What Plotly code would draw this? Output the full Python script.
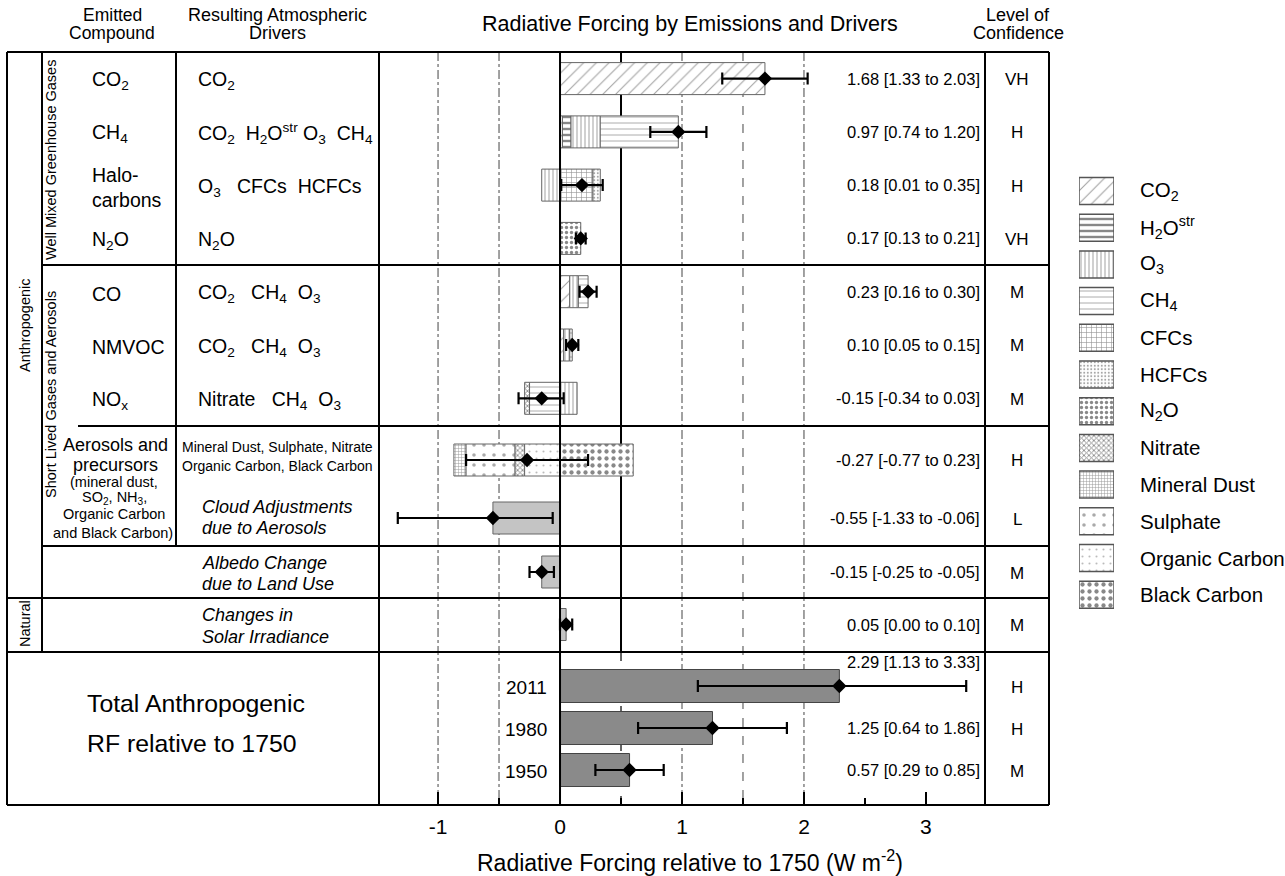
import plotly.graph_objects as go

W, H = 1285, 876
FONT = "Arial, Liberation Sans, Helvetica, sans-serif"

# ------------------------------------------------------------------ data
row_names = ["CO2", "CH4", "Halocarbons", "N2O", "CO", "NMVOC", "NOx",
             "Aerosols", "Cloud adjustments", "Albedo", "Solar",
             "Total 2011", "Total 1980", "Total 1950"]
best = [1.68, 0.97, 0.18, 0.17, 0.23, 0.10, -0.15, -0.27, -0.55, -0.15, 0.05, 2.29, 1.25, 0.57]
low = [1.33, 0.74, 0.01, 0.13, 0.16, 0.05, -0.34, -0.77, -1.33, -0.25, 0.00, 1.13, 0.64, 0.29]
high = [2.03, 1.20, 0.35, 0.21, 0.30, 0.15, 0.03, 0.23, -0.06, -0.05, 0.10, 3.33, 1.86, 0.85]
confidence = ["VH", "H", "H", "VH", "M", "M", "M", "H", "L", "M", "M", "H", "H", "M"]

# contributions of each atmospheric driver (rows CO2 .. Aerosols)
co2_rf = [1.68, 0.02, 0, 0, 0.08, 0.03, 0, 0]
h2o_rf = [0, 0.07, 0, 0, 0, 0, 0, 0]
o3_rf = [0, 0.24, -0.15, 0, 0.07, 0.05, 0.14, 0]
ch4_rf = [0, 0.64, 0, 0, 0.08, 0.02, -0.25, 0]
cfc_rf = [0, 0, 0.27, 0, 0, 0, 0, 0]
hcfc_rf = [0, 0, 0.06, 0, 0, 0, 0, 0]
n2o_rf = [0, 0, 0, 0.17, 0, 0, 0, 0]
nitrate_rf = [0, 0, 0, 0, 0, 0, -0.04, -0.08]
dust_rf = [0, 0, 0, 0, 0, 0, 0, -0.10]
sulphate_rf = [0, 0, 0, 0, 0, 0, 0, -0.40]
oc_rf = [0, 0, 0, 0, 0, 0, 0, -0.29]
bc_rf = [0, 0, 0, 0, 0, 0, 0, 0.60]

gray_rows = [8, 9, 10]          # cloud, albedo, solar
total_rows = [11, 12, 13]
total_years = ["2011", "1980", "1950"]

drivers = ["CO2", "H2Ostr", "O3", "CH4", "CFCs", "HCFCs", "N2O",
           "Nitrate", "Mineral Dust", "Sulphate", "Organic Carbon", "Black Carbon"]
driver_labels = ["CO<sub>2</sub>", "H<sub>2</sub>O<sup>str</sup>", "O<sub>3</sub>", "CH<sub>4</sub>",
                 "CFCs", "HCFCs", "N<sub>2</sub>O", "Nitrate", "Mineral Dust", "Sulphate",
                 "Organic Carbon", "Black Carbon"]
contrib = {"CO2": co2_rf, "H2Ostr": h2o_rf, "O3": o3_rf, "CH4": ch4_rf, "CFCs": cfc_rf,
           "HCFCs": hcfc_rf, "N2O": n2o_rf, "Nitrate": nitrate_rf, "Mineral Dust": dust_rf,
           "Sulphate": sulphate_rf, "Organic Carbon": oc_rf, "Black Carbon": bc_rf}

compound_text = ["CO<sub>2</sub>", "CH<sub>4</sub>", "Halo-<br>carbons", "N<sub>2</sub>O",
                 "CO", "NMVOC", "NO<sub>x</sub>"]
NB = "\u00a0"
driver_text = ["CO<sub>2</sub>",
               f"CO<sub>2</sub>{NB}{NB}H<sub>2</sub>O<sup>str</sup>{NB}O<sub>3</sub>{NB}{NB}CH<sub>4</sub>",
               f"O<sub>3</sub>{NB}{NB}{NB}CFCs{NB}{NB}HCFCs",
               "N<sub>2</sub>O",
               f"CO<sub>2</sub>{NB}{NB}{NB}CH<sub>4</sub>{NB}{NB}O<sub>3</sub>",
               f"CO<sub>2</sub>{NB}{NB}{NB}CH<sub>4</sub>{NB}{NB}O<sub>3</sub>",
               f"Nitrate{NB}{NB}{NB}CH<sub>4</sub>{NB}{NB}O<sub>3</sub>"]

# ------------------------------------------------------------------ layout / style
def px(x):
    return x / W

def py(y):
    return 1 - y / H

Y_BOTTOM = 805
row_y = [78.6, 131.9, 185.1, 238.4, 291.7, 345.0, 398.3, 460, 518, 572, 624.5, 686, 728, 770]
label_dy = [0] * 11 + [-24, 0, 0]
BAR_H = 32

styles = {
    "CO2": dict(shape="/", size=9, solidity=0.12, fgcolor="#444"),
    "H2Ostr": dict(shape="-", size=6, solidity=0.4, fgcolor="#111"),
    "O3": dict(shape="|", size=4, solidity=0.25, fgcolor="#444"),
    "CH4": dict(shape="-", size=6, solidity=0.15, fgcolor="#444"),
    "CFCs": dict(shape="+", size=5, solidity=0.22, fgcolor="#222"),
    "HCFCs": dict(shape=".", size=3.5, solidity=0.25, fgcolor="#444"),
    "N2O": dict(shape=".", size=5, solidity=0.35, fgcolor="#111"),
    "Nitrate": dict(shape="x", size=3.5, solidity=0.45, fgcolor="#111"),
    "Mineral Dust": dict(shape="+", size=3, solidity=0.3, fgcolor="#333"),
    "Sulphate": dict(shape=".", size=10, solidity=0.1, fgcolor="#555"),
    "Organic Carbon": dict(shape=".", size=7, solidity=0.07, fgcolor="#777"),
    "Black Carbon": dict(shape=".", size=7, solidity=0.3, fgcolor="#111"),
}

pos_order = ["CO2", "H2Ostr", "O3", "CH4", "CFCs", "HCFCs", "N2O", "Black Carbon"]
neg_order = ["O3", "CH4", "Organic Carbon", "Nitrate", "Sulphate", "Mineral Dust"]

n_stack = len(co2_rf)
pos_cum = [0.0] * n_stack
neg_cum = [0.0] * n_stack
segs = {d: {"y": [], "base": [], "w": []} for d in drivers}
for d in pos_order:
    for i, v in enumerate(contrib[d]):
        if v > 0:
            segs[d]["y"].append(row_y[i]); segs[d]["base"].append(pos_cum[i]); segs[d]["w"].append(v)
            pos_cum[i] += v
for d in neg_order:
    for i, v in enumerate(contrib[d]):
        if v < 0:
            neg_cum[i] += v
            segs[d]["y"].append(row_y[i]); segs[d]["base"].append(neg_cum[i]); segs[d]["w"].append(-v)

fig = go.Figure()

for d in drivers:
    if not segs[d]["y"]:
        continue
    st = styles[d]
    fig.add_trace(go.Bar(
        orientation="h", y=segs[d]["y"], x=segs[d]["w"], base=segs[d]["base"], width=BAR_H,
        marker=dict(color="white", line=dict(color="#666", width=1),
                    pattern=dict(shape=st["shape"], size=st["size"], solidity=st["solidity"],
                                 fgcolor=st["fgcolor"], bgcolor="white")),
        name=d, hoverinfo="skip"))

fig.add_trace(go.Bar(
    orientation="h", y=[row_y[i] for i in gray_rows], x=[best[i] for i in gray_rows],
    base=[0] * len(gray_rows), width=BAR_H,
    marker=dict(color="#c4c4c4", line=dict(color="#666", width=1)), hoverinfo="skip"))

fig.add_trace(go.Bar(
    orientation="h", y=[row_y[i] for i in total_rows], x=[best[i] for i in total_rows],
    base=[0] * len(total_rows), width=33,
    marker=dict(color="#8a8a8a", line=dict(color="#444", width=1)), hoverinfo="skip"))

# error bars + best estimates
fig.add_trace(go.Scatter(
    x=best, y=row_y, mode="markers",
    marker=dict(symbol="diamond", size=11, color="black"),
    error_x=dict(type="data", symmetric=False,
                 array=[h - b for h, b in zip(high, best)],
                 arrayminus=[b - l for b, l in zip(best, low)],
                 thickness=2.2, width=6, color="black"),
    hoverinfo="skip"))

# legend swatches on their own small axis
leg_y = [191 + i * 36.7 for i in range(len(drivers))]
for i, d in enumerate(drivers):
    st = styles[d]
    fig.add_trace(go.Bar(
        orientation="h", y=[leg_y[i]], x=[1], base=[0], width=27, xaxis="x2", yaxis="y2",
        marker=dict(color="white", line=dict(color="#555", width=1.5),
                    pattern=dict(shape=st["shape"], size=st["size"], solidity=st["solidity"],
                                 fgcolor=st["fgcolor"], bgcolor="white")),
        hoverinfo="skip"))

# ------------------------------------------------------------------ shapes
shapes = []

def hline(y, x0, x1, w=2):
    shapes.append(dict(type="line", xref="paper", yref="paper", x0=px(x0), x1=px(x1),
                       y0=py(y), y1=py(y), line=dict(color="black", width=w), layer="above"))

def vline(x, y0, y1, w=2):
    shapes.append(dict(type="line", xref="paper", yref="paper", x0=px(x), x1=px(x),
                       y0=py(y0), y1=py(y1), line=dict(color="black", width=w), layer="above"))

# grid lines (data coords)
for gx in [-1, -0.5, 1, 2]:
    shapes.append(dict(type="line", xref="x", yref="y", x0=gx, x1=gx, y0=52, y1=Y_BOTTOM,
                       line=dict(color="#444", width=1, dash="dashdot"), layer="below"))
shapes.append(dict(type="line", xref="x", yref="y", x0=1.5, x1=1.5, y0=52, y1=Y_BOTTOM,
                   line=dict(color="#444", width=1, dash="dash"), layer="below"))
shapes.append(dict(type="line", xref="x", yref="y", x0=0.5, x1=0.5, y0=52, y1=652,
                   line=dict(color="black", width=2), layer="below"))
shapes.append(dict(type="line", xref="x", yref="y", x0=0.5, x1=0.5, y0=652, y1=Y_BOTTOM,
                   line=dict(color="#333", width=1.5, dash="dash"), layer="below"))
shapes.append(dict(type="line", xref="x", yref="y", x0=0, x1=0, y0=52, y1=Y_BOTTOM,
                   line=dict(color="black", width=2), layer="above"))

# table
hline(52, 7, 1049)
hline(265, 42, 1049)
hline(426, 78, 1049)
hline(546, 42, 1049)
hline(598, 7, 1049)
hline(652, 7, 1049)
hline(Y_BOTTOM, 7, 1049)
vline(7, 52, Y_BOTTOM)
vline(42, 52, 652)
vline(176, 52, 546)
vline(379, 52, Y_BOTTOM)
vline(985, 52, Y_BOTTOM)
vline(1049, 52, Y_BOTTOM)

# ------------------------------------------------------------------ annotations
ann = []

def txt(x, y, text, size, anchor="left", italic=False, angle=0):
    ann.append(dict(x=px(x), y=py(y), xref="paper", yref="paper", text=text, showarrow=False,
                    xanchor=anchor, yanchor="middle", textangle=angle,
                    align=anchor if anchor in ("left", "right") else "center",
                    font=dict(family=FONT, size=size, color="black",
                              style="italic" if italic else "normal")))

# headers
txt(112, 15, "Emitted", 17.5, "center")
txt(112, 33, "Compound", 17.5, "center")
txt(277, 15, "Resulting Atmospheric", 18, "center")
txt(277, 33, "Drivers", 18, "center")
txt(690, 24, "Radiative Forcing by Emissions and Drivers", 21.5, "center")
txt(1018, 15, "Level of", 18, "center")
txt(1018, 33, "Confidence", 18, "center")

# side labels
txt(25, 325, "Anthropogenic", 14.5, "center", angle=-90)
txt(51, 160, "Well Mixed Greenhouse Gases", 14.5, "center", angle=-90)
txt(51, 395, "Short Lived Gases and Aerosols", 14.5, "center", angle=-90)
txt(25, 624, "Natural", 14.5, "center", angle=-90)

for i, t in enumerate(compound_text):
    txt(90, row_y[i] + 2, t, 19.5)
for i, t in enumerate(driver_text):
    txt(196, row_y[i] + 2, t, 19.5)

txt(115, 445, "Aerosols and", 18, "center")
txt(115, 465, "precursors", 18, "center")
txt(114, 482, "(mineral dust,", 14.5, "center")
txt(114, 498, "SO<sub>2</sub>, NH<sub>3</sub>,", 14.5, "center")
txt(114, 514, "Organic Carbon", 14.5, "center")
txt(113, 533, "and Black Carbon)", 14.5, "center")

txt(277, 447, "Mineral Dust, Sulphate, Nitrate", 14, "center")
txt(277, 466, "Organic Carbon, Black Carbon", 14, "center")
txt(200, 507, "Cloud Adjustments", 18, italic=True)
txt(200, 528, "due to Aerosols", 18, italic=True)
txt(200, 563, "Albedo Change", 18, italic=True)
txt(200, 584, "due to Land Use", 18, italic=True)
txt(200, 615, "Changes in", 18, italic=True)
txt(200, 637, "Solar Irradiance", 18, italic=True)

txt(85, 703, "Total Anthropogenic", 24.8)
txt(85, 743, "RF relative to 1750", 24.8)
for k, i in enumerate(total_rows):
    txt(549, row_y[i] + 1, total_years[k], 19, "right")

# values and confidence
for i in range(len(best)):
    lab = f"{best[i]:.2f} [{low[i]:.2f} to {high[i]:.2f}]"
    txt(982, row_y[i] + label_dy[i], lab, 16.5, "right")
    txt(1017, row_y[i] + 1, confidence[i], 17, "center")

# legend labels
for i, lab in enumerate(driver_labels):
    txt(1138, leg_y[i], lab, 20.5)

# axis title
txt(690, 861, "Radiative Forcing relative to 1750 (W m<sup>-2</sup>)", 23, "center")

tick_vals = [-1, 0, 1, 2, 3]
tick_text = ["-1", "0", "1", "2", "3"]

fig.update_layout(
    width=W, height=H, margin=dict(l=0, r=0, t=0, b=0),
    paper_bgcolor="white", plot_bgcolor="rgba(0,0,0,0)",
    barmode="overlay", showlegend=False,
    font=dict(family=FONT, color="black"),
    xaxis=dict(domain=[px(379), px(985)], range=[-1.484, 3.484],
               tickvals=tick_vals, ticktext=tick_text, ticks="inside", ticklen=13,
               tickwidth=2, tickcolor="black", showgrid=False, zeroline=False, showline=False,
               tickfont=dict(size=21, color="black", family=FONT), ticklabelstandoff=7,
               minor=dict(ticks="inside", ticklen=7, tickwidth=2, tickcolor="black",
                          dtick=0.5, tick0=0, showgrid=False),
               fixedrange=True),
    yaxis=dict(domain=[1 - Y_BOTTOM / H, 1], range=[Y_BOTTOM, 0], visible=False, fixedrange=True),
    xaxis2=dict(domain=[px(1079), px(1114)], range=[0, 1], visible=False, anchor="y2",
                fixedrange=True),
    yaxis2=dict(domain=[1 - Y_BOTTOM / H, 1], range=[Y_BOTTOM, 0], visible=False, anchor="x2",
                fixedrange=True),
    shapes=shapes, annotations=ann,
)

fig.write_html("out.html")
